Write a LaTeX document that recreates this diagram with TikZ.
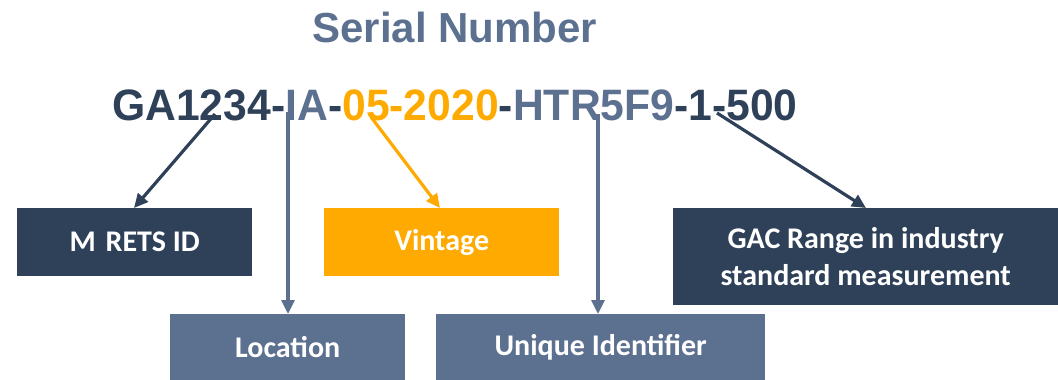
\documentclass[tikz,border=0pt]{standalone}
\usepackage{fontspec}
\setmainfont{Liberation Sans}
\newfontfamily\boxfont{Carlito}
\usetikzlibrary{arrows.meta}
\definecolor{navy}{HTML}{2F4159}
\definecolor{slate}{HTML}{5C7090}
\definecolor{amber}{HTML}{FFAA00}
\tikzset{
  lbl/.style={fill=#1, text=white, inner sep=0pt, anchor=north west,
    font=\boxfont\bfseries\fontsize{30}{37}\selectfont, align=center},
  conn/.style={draw=#1, line width=3.2pt, -{Triangle[length=14pt,width=13pt]}}
}
\begin{document}
\begin{tikzpicture}[x=1pt,y=-1pt]
\useasboundingbox (0,0) rectangle (1058,380);
% title
\node[anchor=base, text=slate, font=\bfseries\fontsize{42}{42}\selectfont, inner sep=0pt] (title) at (455,42) {Serial Number};
% serial number
\node[anchor=base west, inner sep=0pt, font=\bfseries\fontsize{44}{44}\selectfont] (serial) at (112,120)
  {\scalebox{0.97}[1]{\textcolor{navy}{GA1234-}\textcolor{slate}{IA}\textcolor{navy}{-}\textcolor{amber}{05-2020}\textcolor{navy}{-}\textcolor{slate}{HTR5F9}\textcolor{navy}{-1-500}}};
% boxes
\node[lbl=navy, minimum width=235pt, minimum height=68pt] (mrets) at (17,208) {M\hspace{3pt} RETS ID};
\node[lbl=amber, minimum width=235pt, minimum height=68pt] (vintage) at (324,208) {Vintage};
\node[lbl=slate, minimum width=235pt, minimum height=66pt] (location) at (170,314) {Location};
\node[lbl=slate, minimum width=329pt, minimum height=66pt] (unique) at (436,314) {Unique Identifier};
\node[lbl=navy, minimum width=385pt, minimum height=97pt] (gac) at (673,208) {GAC Range in industry\\standard measurement};
% connector start points
\coordinate (s1) at (215,114);
\coordinate (s2) at (288,112);
\coordinate (s3) at (371,117);
\coordinate (s4) at (598,114);
\coordinate (s5) at (717,113);
% connectors
\draw[conn=navy] (s1) -- (mrets.north west -| 134,0);
\draw[conn=slate] (s2) -- (s2 |- location.north);
\draw[conn=amber] (s3) -- (vintage.north west -| 440,0);
\draw[conn=slate] (s4) -- (s4 |- unique.north);
\draw[conn=navy] (s5) -- (gac.north west -| 866,0);
\end{tikzpicture}
\end{document}
